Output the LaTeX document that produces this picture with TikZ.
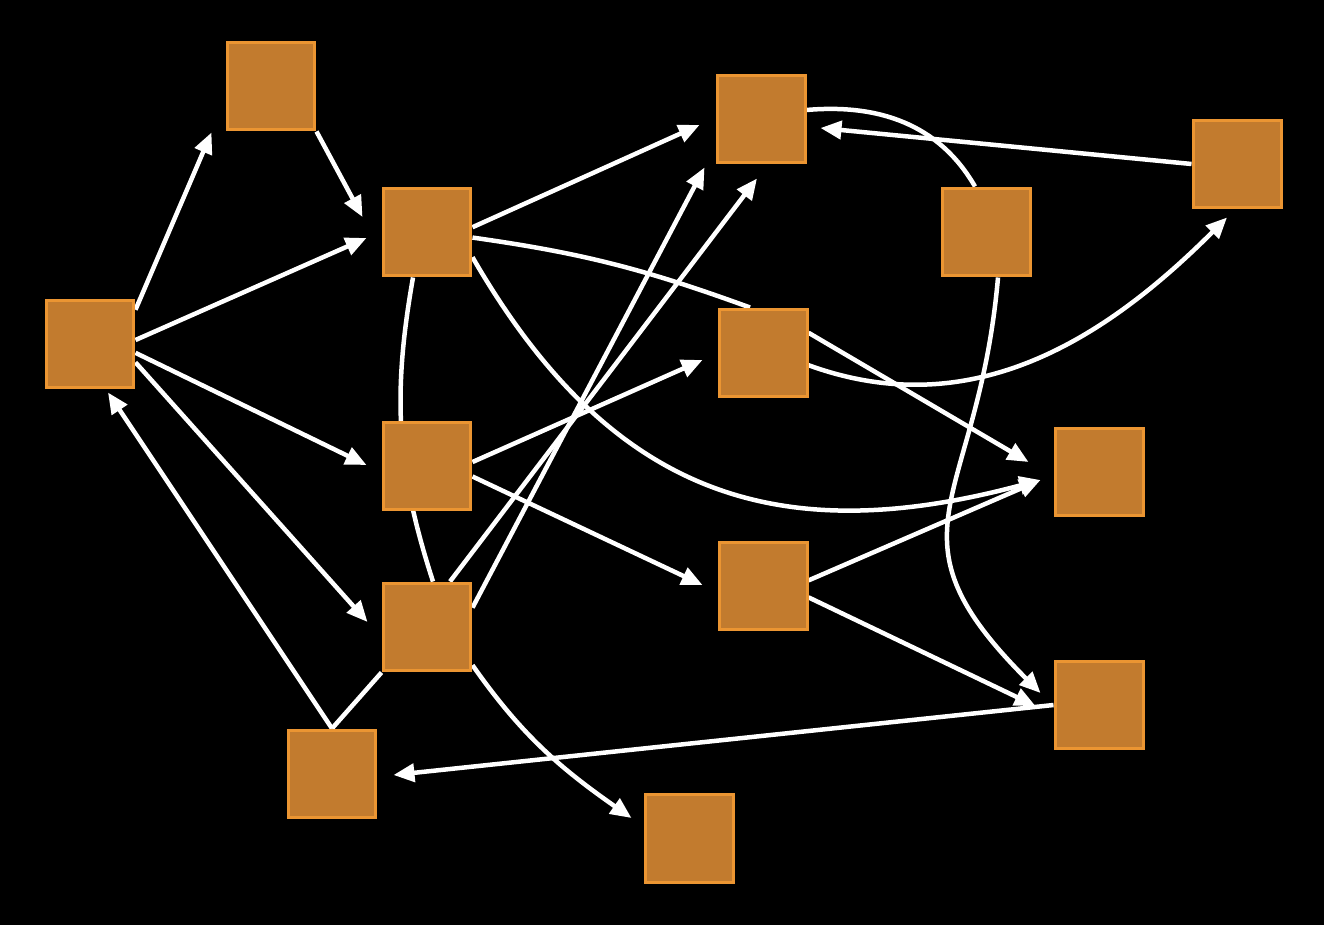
\documentclass[tikz,border=0pt]{standalone}
\usepackage{tikz}
\usetikzlibrary{arrows.meta,calc}
\definecolor{boxfill}{HTML}{C27B2E}
\definecolor{boxedge}{HTML}{EB9532}
\pgfdeclarelayer{back}
\pgfsetlayers{back,main}

\begin{document}
\begin{tikzpicture}[x=0.02cm,y=0.02cm,
  box/.style={draw=boxedge,fill=boxfill,line width=0.06cm,minimum size=1.76cm,inner sep=0pt},
  link/.style={draw=white,line width=0.09cm},
  arr/.style={link,-{Triangle[length=0.42cm,width=0.36cm]}}]
\useasboundingbox (0,0) rectangle (1324,924);
% boxes at pixel centres, y counted upwards
\node[box] (a) at (90,580) {};
\node[box] (b) at (271,838) {};
\node[box] (c) at (427,692) {};
\node[box] (d) at (427,458) {};
\node[box] (e) at (427,297) {};
\node[box] (f) at (332,150) {};
\node[box] (g) at (761,805) {};
\node[box] (h) at (763,571) {};
\node[box] (i) at (763,338) {};
\node[box] (j) at (689,86) {};
\node[box] (k) at (986,692) {};
\node[box] (l) at (1237,760) {};
\node[box] (m) at (1099,452) {};
\node[box] (n) at (1099,219) {};
\begin{pgfonlayer}{back}
\fill[black] (-10,-10) rectangle (1334,934);
% left fan
\draw[arr] (a.37) -- ($(b.south west)+(-14,-1)$);
\draw[arr] (b.south east) -- ($(c.west)+(-19,15)$);
\draw[arr] (a.5) -- ($(c.west)+(-15,-6)$);
\draw[arr] (a.-11) -- ($(d.west)+(-15,1)$);
\draw[arr] (a.-22) -- ($(e.west)+(-14,5)$);
\draw[arr] (f.north) -- ($(a.south)+(18,-3)$);
\draw[link] (f.north) -- (e.south west);
% middle column
\draw[arr] (c.6) -- ($(g.west)+(-16,-6)$);
\draw[link] (c.-7) to[out=-8,in=160] ($(h.north)+(-13,0)$);
\draw[arr] (c.-29) to[out=-60,in=195,looseness=1.15] ($(m.west)+(-13,-8)$);
\draw[link] ($(c.south)+(-14,0)$) to[out=-100,in=108] ($(e.north)+(6,0)$);
\draw[arr] (d.5) -- ($(h.west)+(-15,-7)$);
\draw[arr] (d.-13) -- ($(i.west)+(-15,1)$);
\draw[arr] ($(e.north)+(23,0)$) -- ($(g.south)+(-4,-14)$);
\draw[arr] (e.23) -- ($(g.south west)+(-11,-3)$);
\draw[arr] (e.-40) to[out=-55,in=145] ($(j.west)+(-12,20)$);
% right side
\draw[link] ($(k.north)+(-11,0)$) to[out=120,in=5] ($(g.east)+(0,9)$);
\draw[arr] (l.west) -- ($(g.east)+(14,-9)$);
\draw[arr] (h.24) -- ($(m.west)+(-25,10)$);
\draw[arr] (h.-15) to[out=-20,in=225] ($(l.south)+(-10,-8)$);
\draw[arr] (i.7) -- ($(m.west)+(-13,-8)$);
\draw[arr] (i.-14) -- ($(n.west)+(-18,-1)$);
\draw[arr] ($(k.south)+(12,0)$) to[out=-95,in=135,looseness=1.4] ($(n.west)+(-13,12)$);
\draw[arr] (n.west) -- ($(f.east)+(16,-1)$);
\end{pgfonlayer}
\end{tikzpicture}
\end{document}
